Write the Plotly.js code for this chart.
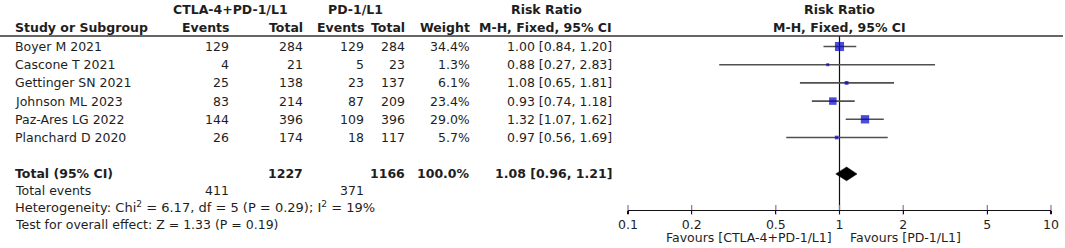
<!DOCTYPE html>
<html>
<head>
<meta charset="utf-8">
<script src="https://cdn.plot.ly/plotly-3.0.1.min.js"></script>
<style>html,body{margin:0;padding:0;background:#fff}#chart{width:1065px;height:248px}</style>
</head>
<body>
<div id="chart"></div>
<script>
// ---------- data ----------
const studies  = ['Boyer M 2021','Cascone T 2021','Gettinger SN 2021','Johnson ML 2023','Paz-Ares LG 2022','Planchard D 2020'];
const eventsExp = [129, 4, 25, 83, 144, 26];
const totalExp  = [284, 21, 138, 214, 396, 174];
const eventsCtl = [129, 5, 23, 87, 109, 18];
const totalCtl  = [284, 23, 137, 209, 396, 117];
const weights   = [34.4, 1.3, 6.1, 23.4, 29.0, 5.7];
const rr        = [1.00, 0.88, 1.08, 0.93, 1.32, 0.97];
const ciLow     = [0.84, 0.27, 0.65, 0.74, 1.07, 0.56];
const ciHigh    = [1.20, 2.83, 1.81, 1.18, 1.62, 1.69];

const pooledRR = 1.08, pooledLow = 0.96, pooledHigh = 1.21;
const pooledTotalExp = 1227, pooledTotalCtl = 1166, pooledWeight = 100.0;
const pooledEventsExp = 411, pooledEventsCtl = 371;
const heterogeneity = 'Heterogeneity: Chi<sup>2</sup> = 6.17, df = 5 (P = 0.29); I<sup>2</sup> = 19%';
const overallTest = 'Test for overall effect: Z = 1.33 (P = 0.19)';

const tickVals = [0.1, 0.2, 0.5, 1, 2, 5, 10];
const tickText = ['0.1', '0.2', '0.5', '1', '2', '5', '10'];
const favourLeft = 'Favours [CTLA-4+PD-1/L1]';
const favourRight = 'Favours [PD-1/L1]';

// ---------- layout helpers ----------
const W = 1065, H = 248;
const FONT = 'DejaVu Sans';
const TXT = '#1e1e1e';
const FS = 12.5;
// row units: study i at y = i
const ROW_TOTAL = 7.0, ROW_TEV = 7.9, ROW_HET = 8.83, ROW_TEST = 9.77;
const ROW_H1 = -2.06, ROW_H2 = -1.07, ROW_LINE = -0.58, ROW_AXIS = 8.98, ROW_FAV = 10.5;
const yTopPx = 46.5, rowPx = 18.2;
const yRange = [(H - yTopPx) / rowPx, -yTopPx / rowPx];

const col = {study: 13, evE: 231, totE: 305, evC: 366, totC: 407, wt: 472, rr: 614};
const px = v => v / W;

const annotations = [];
function ann(text, xPx, yRow, anchor, bold, size) {
  annotations.push({
    text: bold ? '<b>' + text + '</b>' : text,
    xref: 'paper', yref: 'y', x: px(xPx), y: yRow,
    xanchor: anchor, yanchor: 'middle', showarrow: false,
    font: {family: FONT, size: size || FS, color: TXT}
  });
}
const fmt2 = v => v.toFixed(2);
const ciText = (r, l, h) => fmt2(r) + ' [' + fmt2(l) + ', ' + fmt2(h) + ']';

// headers
ann('CTLA-4+PD-1/L1', 230, ROW_H1, 'center', true);
ann('PD-1/L1', 355, ROW_H1, 'center', true);
ann('Risk Ratio', 546, ROW_H1, 'center', true);
ann('Risk Ratio', 839, ROW_H1, 'center', true);
ann('Study or Subgroup', col.study, ROW_H2, 'left', true);
ann('Events', col.evE, ROW_H2, 'right', true);
ann('Total', col.totE, ROW_H2, 'right', true);
ann('Events', col.evC, ROW_H2, 'right', true);
ann('Total', col.totC, ROW_H2, 'right', true);
ann('Weight', col.wt, ROW_H2, 'right', true);
ann('M-H, Fixed, 95% CI', col.rr, ROW_H2, 'right', true);
ann('M-H, Fixed, 95% CI', 839, ROW_H2, 'center', true);

// study rows
studies.forEach((s, i) => {
  ann(s, col.study, i, 'left');
  ann(String(eventsExp[i]), col.evE, i, 'right');
  ann(String(totalExp[i]), col.totE, i, 'right');
  ann(String(eventsCtl[i]), col.evC, i, 'right');
  ann(String(totalCtl[i]), col.totC, i, 'right');
  ann(weights[i].toFixed(1) + '%', col.wt, i, 'right');
  ann(ciText(rr[i], ciLow[i], ciHigh[i]), col.rr, i, 'right');
});

// total rows
ann('Total (95% CI)', col.study, ROW_TOTAL, 'left', true);
ann(String(pooledTotalExp), col.totE, ROW_TOTAL, 'right', true);
ann(String(pooledTotalCtl), col.totC, ROW_TOTAL, 'right', true);
ann(pooledWeight.toFixed(1) + '%', col.wt, ROW_TOTAL, 'right', true);
ann(ciText(pooledRR, pooledLow, pooledHigh), col.rr, ROW_TOTAL, 'right', true);
ann('Total events', col.study, ROW_TEV, 'left');
ann(String(pooledEventsExp), col.evE, ROW_TEV, 'right');
ann(String(pooledEventsCtl), col.evC, ROW_TEV, 'right');
ann(heterogeneity, col.study, ROW_HET, 'left', false, 13);
ann(overallTest, col.study, ROW_TEST, 'left');

// favours labels (log axis annotation -> log10 of position)
annotations.push({text: favourLeft, xref: 'x', yref: 'y', x: Math.log10(1), y: ROW_FAV,
  xanchor: 'right', yanchor: 'middle', xshift: -6, showarrow: false,
  font: {family: FONT, size: FS, color: TXT}});
annotations.push({text: favourRight, xref: 'x', yref: 'y', x: Math.log10(1), y: ROW_FAV,
  xanchor: 'left', yanchor: 'middle', xshift: 8, showarrow: false,
  font: {family: FONT, size: FS, color: TXT}});

// ---------- traces ----------
const rows = studies.map((_, i) => i);
const ciX = [], ciY = [];
rows.forEach(i => { ciX.push(ciLow[i], ciHigh[i], null); ciY.push(i, i, null); });

const traces = [
  {x: [1, 1], y: [ROW_LINE, ROW_AXIS], mode: 'lines', line: {color: '#111', width: 1.2}, hoverinfo: 'skip'},
  {x: ciX, y: ciY, mode: 'lines', line: {color: '#505050', width: 1.6}, hoverinfo: 'skip'},
  {x: rr, y: rows, mode: 'markers', marker: {symbol: 'square', color: '#0000C8',
     size: weights.map(w => Math.max(3, 1.55 * Math.sqrt(w))), line: {width: 0}}, hoverinfo: 'skip'},
  {x: [pooledLow, pooledRR, pooledHigh, pooledRR, pooledLow],
   y: [ROW_TOTAL, ROW_TOTAL - 0.38, ROW_TOTAL, ROW_TOTAL + 0.38, ROW_TOTAL],
   mode: 'lines', fill: 'toself', fillcolor: '#000', line: {color: '#000', width: 0.5}, hoverinfo: 'skip'},
  // tick marks crossing the axis line
  {x: tickVals, y: tickVals.map(() => ROW_AXIS), mode: 'markers', cliponaxis: false,
   marker: {symbol: 'line-ns-open', size: 7, line: {color: '#111', width: 1.2}}, hoverinfo: 'skip'}
];

const axisPos = 1 - (yTopPx + ROW_AXIS * rowPx) / H;

const layout = {
  width: W, height: H,
  margin: {l: 0, r: 0, t: 0, b: 0, pad: 0},
  paper_bgcolor: '#fff', plot_bgcolor: 'rgba(0,0,0,0)',
  showlegend: false,
  font: {family: FONT, size: FS, color: TXT},
  xaxis: {
    type: 'log', range: [-1, 1], domain: [px(628), px(1051)],
    anchor: 'free', position: axisPos,
    showgrid: false, zeroline: false,
    showline: true, linecolor: '#111', linewidth: 1.2,
    tickmode: 'array', tickvals: tickVals, ticktext: tickText,
    ticks: 'outside', ticklen: 3, tickwidth: 1.2, tickcolor: '#111',
    tickfont: {family: FONT, size: FS, color: TXT}
  },
  yaxis: {range: yRange, domain: [0, 1], visible: false, showgrid: false, zeroline: false},
  shapes: [{type: 'line', xref: 'paper', yref: 'y', x0: 0, x1: px(1063), y0: ROW_LINE, y1: ROW_LINE,
    line: {color: '#333', width: 1.6}}],
  annotations: annotations
};

Plotly.newPlot('chart', traces, layout, {staticPlot: true, displayModeBar: false});
</script>
</body>
</html>
